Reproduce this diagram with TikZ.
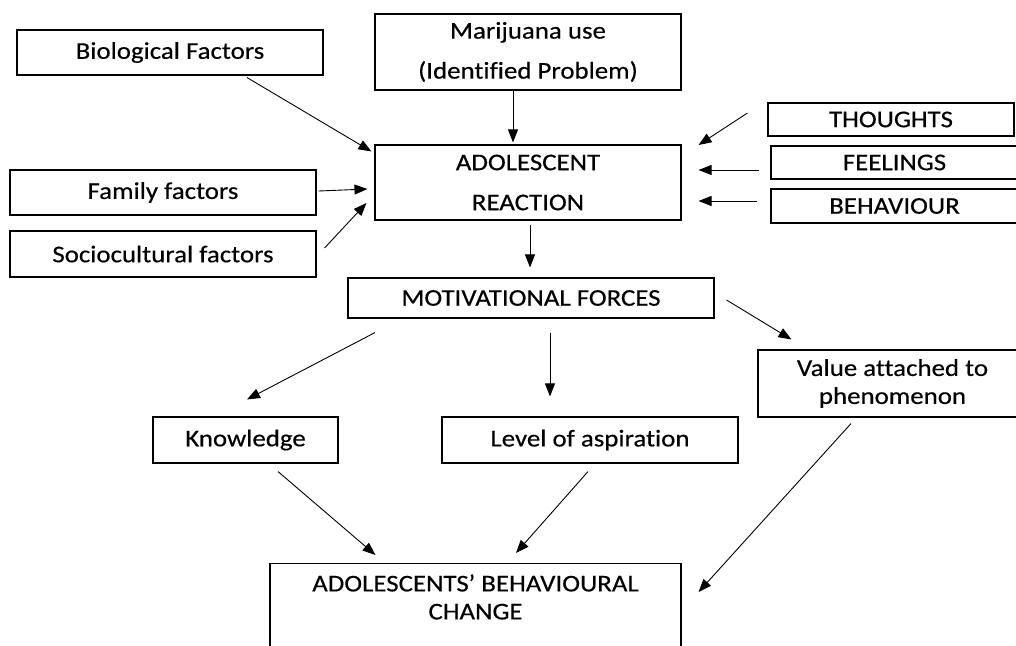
\documentclass[tikz,border=0pt]{standalone}
\usepackage{fontspec}
\setmainfont{Carlito}[FakeStretch=1.12, Ligatures=NoCommon, FakeBold=0.4]
\usetikzlibrary{arrows.meta,calc}
\begin{document}
\begin{tikzpicture}[x=1pt,y=-1pt,
  box/.style={draw=black, line width=1.1pt, inner sep=0pt, align=center, font=\fontsize{24}{28}\selectfont},
  dbl/.style={font=\fontsize{24}{40}\selectfont},
  lbl/.style={inner sep=0pt, align=center, font=\fontsize{24}{28}\selectfont},
  arr/.style={line width=0.9pt, -{Triangle[length=13pt,width=10pt]}}]
\useasboundingbox (0,0) rectangle (1016,645);
% boxes
\node[box, minimum width=306pt, minimum height=45pt] (bio) at (170,52.5) {Biological Factors};
\node[box, dbl, minimum width=306pt, minimum height=76pt] (mar) at (528,52) {Marijuana use\\(Identified Problem)};
\node[box, dbl, minimum width=306pt, minimum height=75pt] (react) at (528,182.5) {ADOLESCENT\\REACTION};
\node[box, minimum width=306pt, minimum height=45pt] (fam) at (163,192.5) {Family factors};
\node[box, minimum width=306pt, minimum height=46pt] (soc) at (163,254) {Sociocultural factors};
\node[box, minimum width=246pt, minimum height=33pt] (th) at (891,119.5) {THOUGHTS};
\node[box, minimum width=247pt, minimum height=33pt] (fe) at (894.5,162.5) {FEELINGS};
\node[box, minimum width=247pt, minimum height=34pt] (be) at (894.5,206) {BEHAVIOUR};
\node[box, minimum width=366pt, minimum height=40pt] (mot) at (531,298) {MOTIVATIONAL FORCES};
\node[box, minimum width=269pt, minimum height=67pt] (val) at (892.5,383.5) {Value attached to\\phenomenon};
\node[box, minimum width=185pt, minimum height=46pt] (kn) at (245.5,440) {Knowledge};
\node[box, minimum width=296pt, minimum height=46pt] (lev) at (590,440) {Level of aspiration};
\node[box, minimum width=411pt, minimum height=130pt, anchor=north] (chg) at (475.5,563) {};
\node[lbl] (chgtxt) at ($(chg.north)+(0,34)$) {ADOLESCENTS’ BEHAVIOURAL\\CHANGE};
% arrows
\draw[arr] ($(bio.south)+(77,2)$) -- ($(react.north west)+(-3,7)$);
\draw[arr] ($(mar.south)+(-15,0)$) -- ($(react.north)+(-15,-2)$);
\draw[arr] ($(fam.east)+(2,-1.5)$) -- ($(react.west)+(-7,6.5)$);
\draw[arr] ($(soc.east)+(8,-6)$) -- ($(react.west)+(-8,20.5)$);
\draw[arr] ($(th.west)+(-20,-6.5)$) -- ($(react.east)+(17,-37.5)$);
\draw[arr] ($(fe.west)+(-11,7.5)$) -- ($(react.east)+(17,-12.5)$);
\draw[arr] ($(be.west)+(-13,-5)$) -- ($(react.east)+(17,18.5)$);
\draw[arr] ($(react.south)+(2,4)$) -- ($(mot.north)+(-1,-10)$);
\draw[arr] ($(mot.south)+(-156,14)$) -- ($(kn.north)+(1.5,-17)$);
\draw[arr] ($(mot.south)+(19,14)$) -- ($(lev.north)+(-40,-20)$);
\draw[arr] ($(mot.east)+(12,2)$) -- ($(val.north west)+(34,-10)$);
\draw[arr] ($(kn.south)+(32.5,8)$) -- ($(chg.north west)+(106,-8)$);
\draw[arr] ($(lev.south)+(-2,8)$) -- ($(chg.north)+(40.5,-10)$);
\draw[arr] ($(val.south)+(-41.5,6)$) -- ($(chg.north east)+(17,29)$);
\end{tikzpicture}
\end{document}
